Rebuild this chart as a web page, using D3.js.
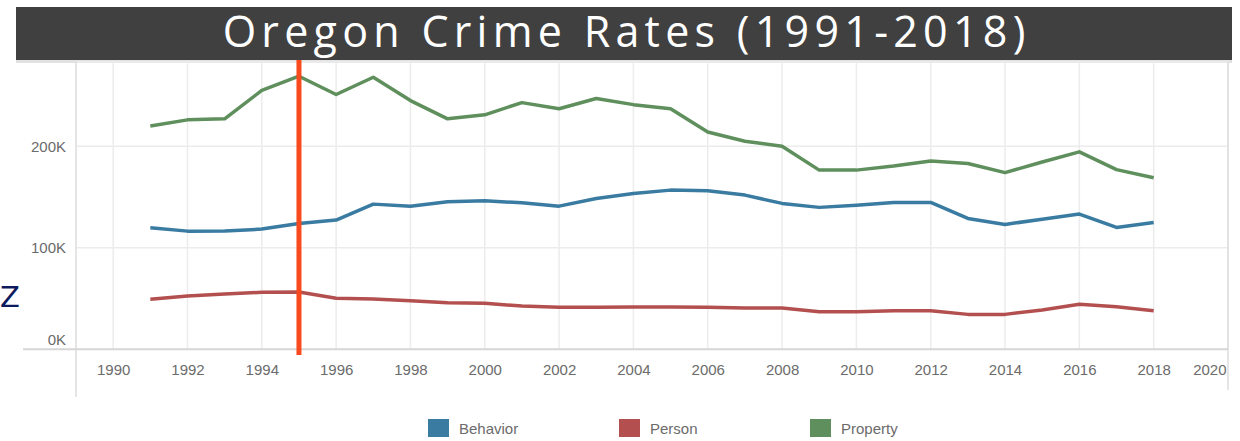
<!DOCTYPE html>
<meta charset="utf-8">
<style>
body { margin: 0; background: #fff; }
svg { display: block; }
.tick text { fill: #6b6b6b; font-family: "Liberation Sans", Arial, sans-serif; font-size: 15px; }
.grid line { stroke: #ececec; stroke-width: 1.5px; }
</style>
<svg width="1240" height="441"></svg>
<script src="https://d3js.org/d3.v7.min.js"></script>
<script>

// Data (values in crimes)
var years = d3.range(1991, 2019);
var behavior = [119700, 116400, 116600, 118400, 124000, 127300, 143000, 141000, 145300, 146300,
                144300, 141000, 148600, 153500, 156800, 156100, 151900, 143700, 139800, 142000,
                144700, 144700, 128900, 123000, 128200, 133200, 120000, 125000];
var person = [49200, 52500, 54400, 56100, 56400, 50200, 49500, 47800, 45900, 45300,
              42600, 41300, 41300, 41600, 41600, 41300, 40600, 40600, 37000, 37000,
              38000, 38000, 34400, 34400, 38700, 44300, 42000, 38000];
var property = [220000, 226000, 227000, 255000, 269000, 251000, 268000, 245000, 227000, 231000,
                243000, 237000, 247000, 241000, 237000, 214000, 205000, 200000, 176500, 176500,
                180500, 185500, 183000, 174000, 184500, 194500, 177000, 169000];
var seriesNames = ["Behavior", "Person", "Property"];
var seriesColors = ["#3a7ba2", "#b3504f", "#5f8f5c"];
var xTicks = d3.range(1990, 2021, 2);
var yTicks = [0, 100000, 200000];
var markerYear = 1995;
var title = "Oregon Crime Rates (1991-2018)";

var svg = d3.select("svg");

var x = d3.scaleLinear().domain([1989, 2020]).range([76, 1228]);
var y = d3.scaleLinear().domain([0, 283000]).range([349.3, 62]);

// title bar
svg.append("rect").attr("x", 16).attr("y", 60).attr("width", 1216).attr("height", 3).attr("fill", "#e2e2e2");
svg.append("rect").attr("x", 16).attr("y", 7).attr("width", 1216).attr("height", 53).attr("fill", "#404040");
var titleText = svg.append("text")
    .attr("x", 624).attr("y", 47)
    .attr("text-anchor", "middle")
    .attr("fill", "#fff")
    .attr("font-family", "'Open Sans', sans-serif")
    .attr("font-size", 43)
    .text(title);
// widen the letter spacing a little so the title spans the width seen in the picture
var tw = titleText.node().getComputedTextLength();
var spacing = Math.max(0, (808 - tw) / title.length);
titleText.attr("letter-spacing", spacing).attr("x", 624 + spacing / 2);

// gridlines
var grid = svg.append("g").attr("class", "grid");
grid.selectAll(".v").data(xTicks).enter().append("line")
    .attr("x1", d => x(d)).attr("x2", d => x(d))
    .attr("y1", y.range()[1]).attr("y2", y(0));
grid.selectAll(".h").data(yTicks.slice(1)).enter().append("line")
    .attr("x1", x(1989)).attr("x2", x(2020))
    .attr("y1", d => y(d)).attr("y2", d => y(d));
grid.append("line").attr("x1", x(1989)).attr("x2", x(2020)).attr("y1", 62).attr("y2", 62);

// frame lines
svg.append("line").attr("x1", x(1989)).attr("x2", x(1989)).attr("y1", 62).attr("y2", 397)
    .attr("stroke", "#dcdcdc").attr("stroke-width", 1.5);
svg.append("line").attr("x1", x(2020)).attr("x2", x(2020)).attr("y1", 62).attr("y2", 390)
    .attr("stroke", "#dcdcdc").attr("stroke-width", 1.5);
svg.append("line").attr("x1", 23).attr("x2", x(2020)).attr("y1", y(0)).attr("y2", y(0))
    .attr("stroke", "#d6d6d6").attr("stroke-width", 2);

// axes
var xAxis = svg.append("g")
    .attr("transform", "translate(0," + y(0) + ")")
    .call(d3.axisBottom(x).tickValues(xTicks).tickFormat(d3.format("d")).tickSize(0).tickPadding(15));
xAxis.select(".domain").remove();
xAxis.selectAll(".tick").filter(d => d === 2020).select("text")
    .attr("text-anchor", "end").attr("dx", "-2");

var yAxis = svg.append("g")
    .attr("transform", "translate(" + x(1989) + ",0)")
    .call(d3.axisLeft(y).tickValues(yTicks).tickFormat(d => d / 1000 + "K").tickSize(0).tickPadding(10));
yAxis.select(".domain").remove();
yAxis.selectAll(".tick").filter(d => d === 0).select("text").attr("dy", "-0.35em");

// lines
var allSeries = [behavior, person, property];
var line = d3.line()
    .x((d, i) => x(years[i]))
    .y(d => y(d));

svg.append("g").selectAll("path")
    .data(allSeries)
    .enter().append("path")
    .attr("fill", "none")
    .attr("stroke", (d, i) => seriesColors[i])
    .attr("stroke-width", 3.5)
    .attr("stroke-linejoin", "round")
    .attr("d", line);

// red marker line
svg.append("line")
    .attr("x1", x(markerYear)).attr("x2", x(markerYear))
    .attr("y1", 60).attr("y2", 355)
    .attr("stroke", "#f84a1c").attr("stroke-width", 5);

// stray letter on the left edge
svg.append("text")
    .attr("x", 0).attr("y", 307)
    .attr("fill", "#0d1b5e")
    .attr("font-family", "'DejaVu Sans', sans-serif")
    .attr("font-size", 29)
    .text("Z");

// legend
var legend = svg.append("g").selectAll("g")
    .data(seriesNames)
    .enter().append("g")
    .attr("transform", (d, i) => "translate(" + (428 + i * 191) + ",419)");
legend.append("rect")
    .attr("width", 21).attr("height", 18)
    .attr("fill", (d, i) => seriesColors[i]);
legend.append("text")
    .attr("x", 31).attr("y", 15)
    .attr("fill", "#6b6b6b")
    .attr("font-family", "'Liberation Sans', Arial, sans-serif")
    .attr("font-size", 15)
    .text(d => d);

</script>
